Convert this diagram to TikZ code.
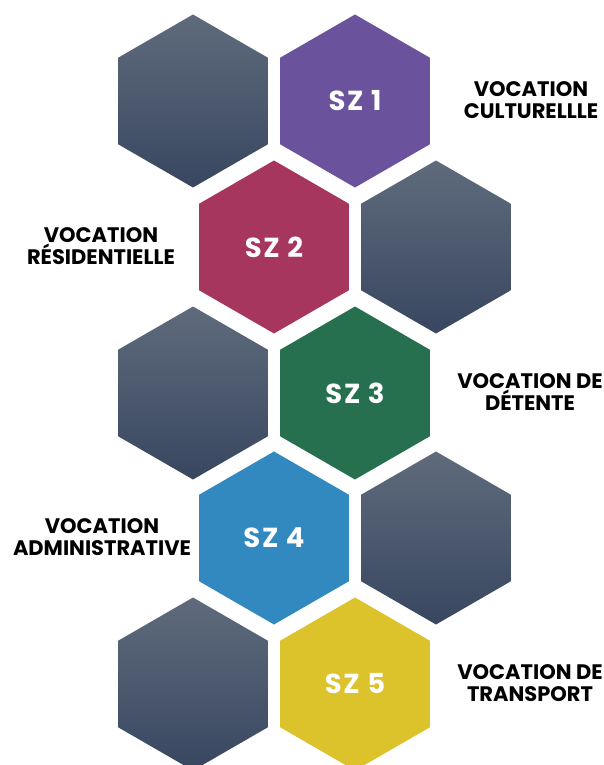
\documentclass[tikz,border=0pt]{standalone}
\usepackage{fontspec}
\setmainfont{Poppins}
\newfontfamily\szfont{Poppins}[LetterSpace=6]
\usetikzlibrary{shapes.geometric}
\definecolor{szpurple}{RGB}{106,83,156}
\definecolor{szred}{RGB}{166,54,94}
\definecolor{szgreen}{RGB}{38,112,80}
\definecolor{szblue}{RGB}{50,137,191}
\definecolor{szgold}{RGB}{220,194,43}
\definecolor{sztop}{RGB}{95,107,124}
\definecolor{szbot}{RGB}{56,70,96}

\begin{document}
\begin{tikzpicture}[x=1pt,y=-1pt,
  hexa/.style={regular polygon,regular polygon sides=6,shape border rotate=30,
    minimum size=173pt,inner sep=0pt,outer sep=0pt,text=white,
    font=\szfont\fontsize{27.5}{30}\selectfont\bfseries},
  grayhex/.style={hexa,top color=sztop,bottom color=szbot},
  lbl/.style={align=center,font=\fontsize{21}{22}\selectfont\bfseries}]
  \useasboundingbox (0,0) rectangle (604,765);
  \foreach \nm/\px/\py in {g1/193/101,g2/436/247,g3/193/393,g4/436/538,g5/193/684}
    \node[grayhex] (\nm) at (\px,\py) {};
  \node[hexa,fill=szpurple] (sz1) at (355,101) {SZ 1};
  \node[hexa,fill=szred] (sz2) at (274,247) {SZ 2};
  \node[hexa,fill=szgreen] (sz3) at (355,393) {SZ 3};
  \node[hexa,fill=szblue] (sz4) at (274,538) {SZ 4};
  \node[hexa,fill=szgold] (sz5) at (355,684) {SZ 5};
  \node[lbl] (l1) at (531,100) {VOCATION\\CULTURELLLE};
  \node[lbl] (l2) at (101,246) {VOCATION\\RÉSIDENTIELLE};
  \node[lbl] (l3) at (530,392) {VOCATION DE\\DÉTENTE};
  \node[lbl] (l4) at (102,537) {VOCATION\\ADMINISTRATIVE};
  \node[lbl] (l5) at (530,683) {VOCATION DE\\TRANSPORT};
\end{tikzpicture}
\end{document}
